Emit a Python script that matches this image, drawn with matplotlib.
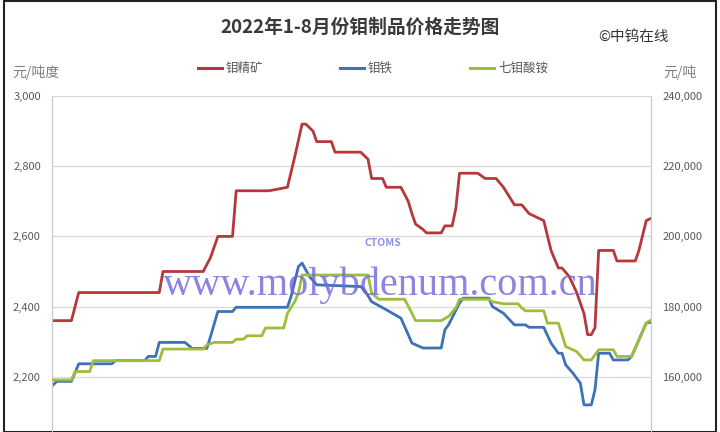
import numpy as np
import matplotlib
matplotlib.use('Agg')
from matplotlib import pyplot as plt
from matplotlib.patches import Rectangle
from matplotlib.ticker import FuncFormatter

plt.rcParams['font.family'] = ['Noto Sans CJK SC', 'DejaVu Sans']

# 钼精矿 (元/吨度) - 交易日序号, 价格
ore_day = [0, 5, 7, 29, 30, 41, 42, 43, 45, 49, 50, 59, 64, 66, 68, 69, 71, 72, 76, 77,
           84, 86, 87, 90, 91, 95, 97, 98, 99, 101, 102, 106, 107, 109, 110, 111, 116, 118,
           121, 123, 126, 128, 130, 133, 134, 136, 138, 139, 141, 143, 145, 146, 147, 148,
           149, 153, 154, 159, 160, 162, 163]
ore_val = [2360, 2360, 2440, 2440, 2500, 2500, 2520, 2540, 2600, 2600, 2730, 2730, 2740,
           2827, 2920, 2920, 2900, 2870, 2870, 2840, 2840, 2820, 2765, 2765, 2740, 2740,
           2700, 2665, 2635, 2620, 2610, 2610, 2630, 2630, 2680, 2780, 2780, 2765, 2765,
           2740, 2690, 2690, 2665, 2650, 2645, 2560, 2510, 2510, 2485, 2440, 2380, 2320,
           2320, 2340, 2560, 2560, 2530, 2530, 2560, 2645, 2650]

# 钼铁 (元/吨)
feMo_day = [0, 1, 5, 7, 16, 17, 25, 26, 28, 29, 36, 38, 42, 43, 45, 49, 50, 64, 65, 67, 68,
            70, 72, 84, 85, 87, 91, 95, 97, 98, 101, 106, 107, 108, 111, 112, 119, 120, 123,
            126, 129, 130, 134, 136, 138, 139, 140, 142, 144, 145, 147, 148, 149, 152, 153,
            157, 158, 162, 163]
feMo_val = [157700, 158700, 158700, 163700, 163700, 164600, 164600, 165800, 165800, 169800,
            169800, 168100, 168100, 171500, 178600, 178600, 179800, 179800, 182900, 191400,
            192400, 188600, 186200, 185700, 184800, 181400, 179100, 176700, 172000, 169600,
            168200, 168200, 173400, 174800, 181000, 182400, 182400, 180000, 178100, 174800,
            174800, 174100, 174100, 169600, 166700, 166700, 163400, 161000, 158200, 152000,
            152000, 156300, 166700, 166700, 164800, 164800, 165800, 175300, 175500]

# 七钼酸铵 (元/吨)
ahm_day = [0, 5, 6, 10, 11, 29, 30, 41, 42, 44, 49, 50, 52, 53, 57, 58, 63, 64, 66, 67, 68,
           86, 87, 89, 96, 98, 99, 106, 108, 110, 111, 119, 120, 123, 127, 128, 129, 134,
           135, 138, 139, 140, 143, 145, 147, 149, 153, 154, 158, 162, 163]
ahm_val = [159100, 159100, 161500, 161500, 164600, 164600, 167900, 167900, 169100, 169800,
           169800, 170700, 170700, 171700, 171700, 173900, 173900, 178100, 181400, 183800,
           189000, 189000, 183800, 182100, 182100, 178100, 176000, 176000, 177200, 179600,
           182100, 182100, 181400, 180800, 180800, 179600, 178800, 178800, 175300, 175300,
           172000, 168600, 167200, 164800, 164800, 167700, 167700, 165800, 165800, 175300,
           176000]

left_ticks = [2200, 2400, 2600, 2800, 3000]
right_ticks = [160000, 180000, 200000, 220000, 240000]

fig = plt.figure(figsize=(7.2, 4.32), dpi=100)
ax1 = fig.add_axes([52/720, (432-447)/432, 599/720, 351/432])
ax2 = ax1.twinx()

c_red = '#b5383d'
c_blue = '#3e72b5'
c_green = '#9dbd3c'

ax2.plot(ahm_day, ahm_val, color=c_green, lw=2.0, zorder=3)
ax2.plot(feMo_day, feMo_val, color=c_blue, lw=2.0, zorder=2)
ax1.plot(ore_day, ore_val, color=c_red, lw=2.0, zorder=3)

ax1.set_xlim(-0.3, 163.3)
ax1.set_ylim(2000, 3000)
ax2.set_ylim(140000, 240000)
ax1.set_yticks(left_ticks)
ax2.set_yticks(right_ticks)
fmt = FuncFormatter(lambda v, p: '{:,.0f}'.format(v))
ax1.yaxis.set_major_formatter(fmt)
ax2.yaxis.set_major_formatter(fmt)
ax1.set_xticks([])

ax1.grid(axis='y', color='#d9d9d9', lw=0.9)
ax1.set_axisbelow(True)
for ax in (ax1, ax2):
    for s in ('top', 'bottom'):
        ax.spines[s].set_visible(False)
    ax.spines['left'].set_color('#c8c8c8')
    ax.spines['right'].set_color('#c8c8c8')
    ax.tick_params(axis='y', length=0, labelsize=8, labelcolor='#595959', pad=8)

ax2.set_zorder(ax1.get_zorder() + 1)
ax2.patch.set_visible(False)

# 标题、单位、图例
fig.text(0.5, 1 - 27/432, '2022年1-8月份钼制品价格走势图', ha='center', va='center',
         fontsize=13.5, fontweight='bold', color='#3a3a3a')
fig.text(598/720, 1 - 37/432, '©中钨在线', ha='left', va='center', fontsize=10.5, color='#333333')
fig.text(12/720, 1 - 73/432, '元/吨度', ha='left', va='center', fontsize=10, color='#7f7f7f')
fig.text(663/720, 1 - 73/432, '元/吨', ha='left', va='center', fontsize=10, color='#7f7f7f')

legend_items = [('钼精矿', c_red, 198), ('钼铁', c_blue, 340), ('七钼酸铵', c_green, 470)]
for name, col, x0 in legend_items:
    fig.add_artist(plt.Line2D([x0/720, (x0+24)/720], [1 - 68/432, 1 - 68/432],
                              color=col, lw=2.2))
    fig.text((x0+28)/720, 1 - 68/432, name, ha='left', va='center', fontsize=9, color='#595959')

# 水印
fig.text(380/720, 1 - 285/432, 'www.molybdenum.com.cn', ha='center', va='center',
         fontsize=29, family='Liberation Serif', color='#6f64dc', alpha=0.8, zorder=10)
fig.text(383/720, 1 - 243/432, 'CTOMS', ha='center', va='center', fontsize=7.5,
         fontstyle='italic', fontweight='bold', color='#7d7ae6', alpha=0.85, zorder=10)

# 外框
fig.add_artist(Rectangle((4/720, 0), 712/720, 1 - 1/432, transform=fig.transFigure,
                         fill=False, edgecolor='#222222', lw=1.5))

fig.savefig('out.png', dpi=100)
